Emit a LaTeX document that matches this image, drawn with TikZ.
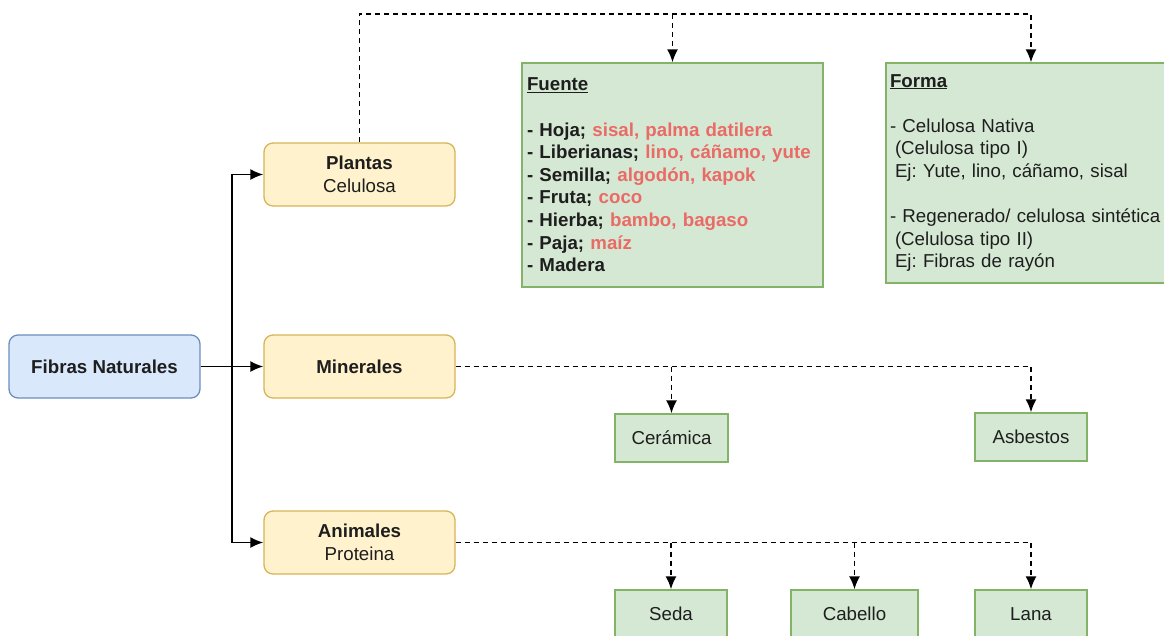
\documentclass[tikz,border=0pt]{standalone}
\usepackage{fontspec}
\setmainfont{Liberation Sans}
\usetikzlibrary{arrows.meta}
\definecolor{bluefill}{HTML}{DAE8FC}
\definecolor{bluedraw}{HTML}{6C8EBF}
\definecolor{yelfill}{HTML}{FFF2CC}
\definecolor{yeldraw}{HTML}{D6B656}
\definecolor{grnfill}{HTML}{D5E8D4}
\definecolor{grndraw}{HTML}{82B366}
\definecolor{redtxt}{HTML}{EA6B66}
\definecolor{txt}{HTML}{1E1E1E}
\newcommand{\rd}[1]{\textcolor{redtxt}{#1}}
\frenchspacing
\begin{document}
\begin{tikzpicture}[x=1pt,y=1pt,
  every node/.style={font=\fontsize{18.7}{22.6}\selectfont, text=txt},
  rbox/.style={rounded corners=9pt, line width=1.3pt, minimum width=191pt, minimum height=63pt, align=center, inner sep=0pt},
  bluebox/.style={rbox, fill=bluefill, draw=bluedraw},
  yelbox/.style={rbox, fill=yelfill, draw=yeldraw},
  grnbox/.style={fill=grnfill, draw=grndraw, line width=1.3pt, inner sep=0pt},
  leafbox/.style={grnbox, minimum height=48pt, align=center},
  arrowtip/.style={-{Latex[length=13pt,width=11pt]}},
  solidarrow/.style={line width=1.8pt, arrowtip},
  dashline/.style={line width=1.8pt, dash pattern=on 5pt off 4pt},
  dasharrow/.style={dashline, arrowtip}
]
\useasboundingbox (0,0) rectangle (1164,-635);
\fill[white] (0,0) rectangle (1164,-635);

% main boxes
\node[bluebox] (fib) at (104.5,-366.5) {\textbf{Fibras Naturales}};
\node[yelbox] (pla) at (359.5,-174.5) {\textbf{Plantas}\\Celulosa};
\node[yelbox] (min) at (359.5,-366.5) {\textbf{Minerales}};
\node[yelbox] (ani) at (359.5,-542.5) {\textbf{Animales}\\Proteina};

% detail boxes
\node[grnbox, minimum width=301pt, minimum height=224pt, text width=291pt, align=left] (fue) at (672.5,-175)
{\textbf{\underline{Fuente}}\\[22.6pt]
\textbf{- Hoja; \rd{sisal, palma datilera}}\\
\textbf{- Liberianas; \rd{lino, cáñamo, yute}}\\
\textbf{- Semilla; \rd{algodón, kapok}}\\
\textbf{- Fruta; \rd{coco}}\\
\textbf{- Hierba; \rd{bambo, bagaso}}\\
\textbf{- Paja; \rd{maíz}}\\
\textbf{- Madera}};

\node[grnbox, minimum width=290pt, minimum height=220pt, text width=282pt, align=left] (for) at (1031,-173)
{\underline{\textbf{Forma}}\\[22.6pt]
- Celulosa Nativa\\
\hspace*{5pt}(Celulosa tipo I)\\
\hspace*{5pt}Ej: Yute, lino, cáñamo, sisal\\[22.6pt]
- Regenerado/ celulosa sintética\\
\hspace*{5pt}(Celulosa tipo II)\\
\hspace*{5pt}Ej: Fibras de rayón};

% leaves
\node[leafbox, minimum width=113pt] (cer) at (671.5,-438) {Cerámica};
\node[leafbox, minimum width=112pt] (asb) at (1031,-437) {Asbestos};
\node[leafbox, minimum width=112pt] (sed) at (671,-614) {Seda};
\node[leafbox, minimum width=127pt] (cab) at (854.5,-614) {Cabello};
\node[leafbox, minimum width=112pt] (lan) at (1031,-614) {Lana};

% solid connectors
\coordinate (jn) at (232,-366.5);
\draw[solidarrow] (fib.east) -- (min.west);
\draw[line width=1.8pt] (fib.east) -- (jn);
\draw[solidarrow] (jn) |- (pla.west);
\draw[solidarrow] (jn) |- (ani.west);

% dashed connectors
\coordinate (top) at (1031,-14);
\draw[dasharrow] (pla.north) |- (top) -- (for.north);
\draw[dasharrow] (fue.north |- top) -- (fue.north);

\draw[dasharrow] (min.east) -| (asb.north);
\draw[dasharrow] (cer.north |- min.east) -- (cer.north);

\draw[dasharrow] (ani.east) -| (lan.north);
\draw[dasharrow] (sed.north |- ani.east) -- (sed.north);
\draw[dasharrow] (cab.north |- ani.east) -- (cab.north);
\end{tikzpicture}
\end{document}
